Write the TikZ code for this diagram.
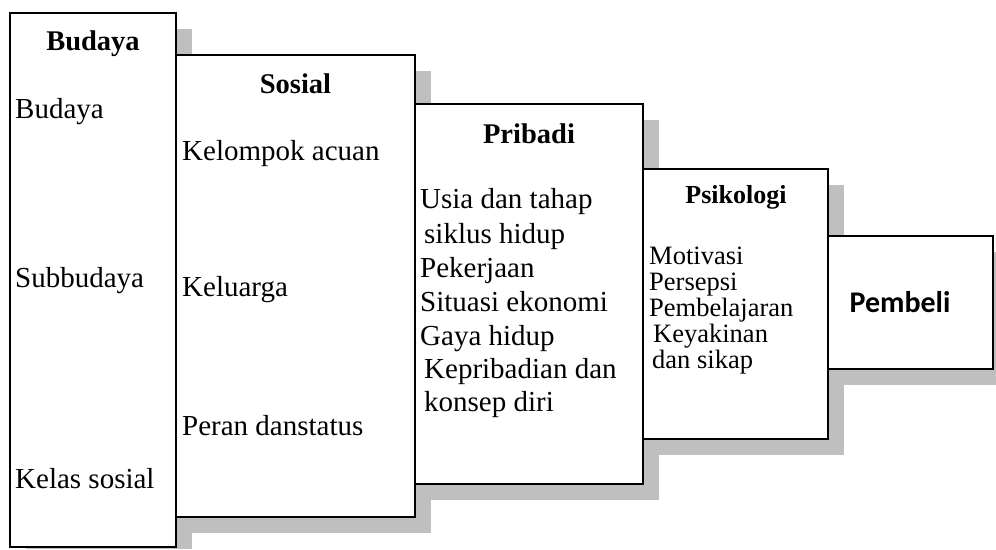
\documentclass[tikz,border=0pt]{standalone}
\usepackage{fontspec}
\setmainfont{Liberation Serif}
\newfontfamily\pemfont{Carlito}
\tikzset{
  box/.style={draw=black, line width=1.5pt, fill=white, anchor=north west, inner sep=0pt, outer sep=0pt},
  shadowbox/.style={fill=shadowgray, draw=none, anchor=north west, inner sep=0pt, outer sep=0pt},
  body/.style={anchor=base west, inner sep=0pt, font=\fontsize{29}{34}\selectfont},
  small/.style={anchor=base west, inner sep=0pt, font=\fontsize{26.5}{30}\selectfont},
  ttl/.style={anchor=base, inner sep=0pt, font=\fontsize{28.5}{34}\selectfont\bfseries},
}
\definecolor{shadowgray}{HTML}{BFBFBF}
\begin{document}
\begin{tikzpicture}[x=1pt,y=-1pt]
\useasboundingbox (0,0) rectangle (996,549);
% box 1
\node[shadowbox, minimum width=166pt, minimum height=520pt] (s1) at (26,29) {};
\node[box, minimum width=166pt, minimum height=534pt] (b1) at (10,13) {};
% box 2
\node[shadowbox, minimum width=239pt, minimum height=462pt] (s2) at (192,71) {};
\node[box, minimum width=239pt, minimum height=462pt] (b2) at (176,55) {};
% box 3
\node[shadowbox, minimum width=228pt, minimum height=380pt] (s3) at (431,120) {};
\node[box, minimum width=228pt, minimum height=380pt] (b3) at (415,104) {};
% box 4
\node[shadowbox, minimum width=185pt, minimum height=270pt] (s4) at (659,185) {};
\node[box, minimum width=185pt, minimum height=270pt] (b4) at (643,169) {};
% box 5
\node[shadowbox, minimum width=165pt, minimum height=133pt] (s5) at (844,252) {};
\node[box, minimum width=165pt, minimum height=133pt] (b5) at (828,236) {};

% texts box 1
\node[ttl] (t1) at (93,50) {Budaya};
\node[body] (a1) at (15,118) {Budaya};
\node[body] (a2) at (15,287) {Subbudaya};
\node[body] (a3) at (15,488) {Kelas sosial};
% box 2
\node[ttl] (t2) at (295.5,93) {Sosial};
\node[body] (c1) at (182,160) {Kelompok acuan};
\node[body] (c2) at (182,296) {Keluarga};
\node[body] (c3) at (182,435) {Peran danstatus};
% box 3
\node[ttl] (t3) at (529,143) {Pribadi};
\node[body] (p1) at (420,208) {Usia dan tahap};
\node[body] (p2) at (424,243) {siklus hidup};
\node[body] (p3) at (420,277) {Pekerjaan};
\node[body] (p4) at (420,311) {Situasi ekonomi};
\node[body] (p5) at (420,345) {Gaya hidup};
\node[body] (p6) at (424,378) {Kepribadian dan};
\node[body] (p7) at (424,411) {konsep diri};
% box 4
\node[anchor=base, inner sep=0pt, font=\fontsize{26}{30}\selectfont\bfseries] (t4) at (736,203) {Psikologi};
\node[small] (k1) at (649,264) {Motivasi};
\node[small] (k2) at (649,290) {Persepsi};
\node[small] (k3) at (649,316) {Pembelajaran};
\node[small] (k4) at (653,342) {Keyakinan};
\node[small] (k5) at (652,368) {dan sikap};
% box 5
\node[anchor=base, inner sep=0pt, font=\pemfont\fontsize{30}{36}\selectfont\bfseries] (t5) at (900,312) {Pembeli};
\end{tikzpicture}
\end{document}
